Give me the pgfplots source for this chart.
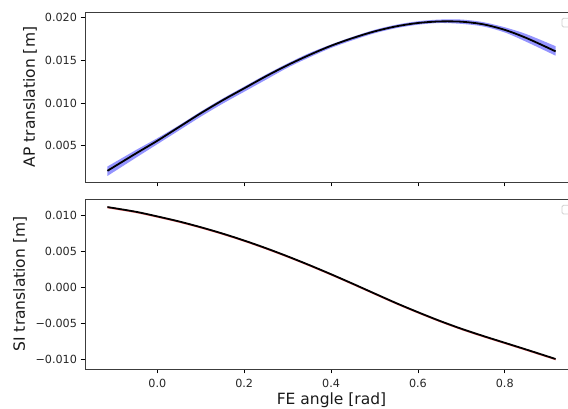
\documentclass[border=0pt]{standalone}
\usepackage{fontspec}
\setmainfont{DejaVu Sans}
\usepackage{pgfplots}
\usepackage{pgfplotstable}
\pgfplotsset{compat=1.18}
\usepgfplotslibrary{fillbetween}

\definecolor{bandblue}{RGB}{148,148,255}
\definecolor{bandred}{RGB}{255,128,128}
\definecolor{axgray}{RGB}{60,60,60}

% AP translation: x, mean, lower, upper
\pgfplotstableread{
x m lo hi
-0.115 0.0021 0.0015 0.0026
-0.05 0.0041 0.0036 0.0045
0.0 0.0056 0.0052 0.0059
0.05 0.0072 0.0068 0.0074
0.1 0.0088 0.0084 0.0090
0.15 0.0103 0.0099 0.0105
0.2 0.0117 0.0113 0.0119
0.25 0.0131 0.0127 0.0133
0.3 0.0144 0.0141 0.0146
0.35 0.01558 0.0153 0.0158
0.4 0.01665 0.0164 0.0168
0.45 0.01755 0.0173 0.0177
0.5 0.01832 0.0181 0.0185
0.55 0.01891 0.0187 0.0191
0.6 0.01930 0.0191 0.0195
0.65 0.01948 0.0193 0.0197
0.7 0.01945 0.0192 0.0197
0.75 0.01915 0.0189 0.0194
0.8 0.01850 0.0182 0.0188
0.85 0.01755 0.0171 0.0180
0.917 0.01600 0.0155 0.0166
}\APdata

% SI translation: x, mean, lower, upper
\pgfplotstableread{
x m lo hi
-0.115 0.0111 0.01092 0.01118
-0.05 0.01045 0.01027 0.01053
0.0 0.0098 0.00962 0.00988
0.05 0.0091 0.00892 0.00918
0.1 0.0083 0.00812 0.00838
0.15 0.00742 0.00724 0.00750
0.2 0.00645 0.00627 0.00653
0.25 0.00539 0.00521 0.00547
0.3 0.00425 0.00407 0.00433
0.35 0.00304 0.00286 0.00312
0.4 0.00177 0.00159 0.00185
0.45 0.00045 0.00027 0.00053
0.5 -0.0009 -0.00108 -0.00082
0.55 -0.00224 -0.00242 -0.00216
0.6 -0.0035 -0.00368 -0.00342
0.65 -0.0047 -0.00488 -0.00462
0.7 -0.0058 -0.00598 -0.00572
0.75 -0.0068 -0.00698 -0.00672
0.8 -0.00775 -0.00793 -0.00767
0.85 -0.0087 -0.00888 -0.00862
0.917 -0.0100 -0.01018 -0.00992
}\SIdata

\pgfplotsset{
  myaxis/.style={
    scale only axis,
    width=493pt, height=170pt,
    xmin=-0.1666, xmax=0.9686,
    xtick={0,0.2,0.4,0.6,0.8},
    tick pos=left,
    tick align=outside,
    major tick length=4.5pt,
    axis line style={axgray, line width=0.8pt},
    every tick/.style={black, line width=0.8pt},
    tick label style={font=\fontsize{11.2}{13}\selectfont, text=black!85},
    xticklabel style={yshift=-2pt},
    label style={font=\fontsize{15.5}{18}\selectfont, text=black!90},
    scaled ticks=false,
  },
}

\begin{document}
\begin{tikzpicture}
% top axis
\begin{axis}[myaxis,
  at={(85pt,227pt)}, anchor=south west,
  ymin=0.0008, ymax=0.02058,
  ytick={0.005,0.010,0.015,0.020},
  yticklabels={0.005,0.010,0.015,0.020},
  xticklabels={},
  ylabel={AP translation [m]},
  ylabel style={at={(axis description cs:-0.1116,0.5)}, anchor=center},
]
\addplot[name path=apu, draw=none, smooth] table[x=x,y=hi] {\APdata};
\addplot[name path=apl, draw=none, smooth] table[x=x,y=lo] {\APdata};
\addplot[bandblue] fill between[of=apu and apl];
\addplot[black, line width=1.8pt, smooth] table[x=x,y=m] {\APdata};
\draw[black!18, fill=white, rounded corners=1.5pt, line width=0.8pt] (rel axis cs:0.9675,0.963) rectangle (rel axis cs:0.9878,0.912);
\end{axis}
% bottom axis
\begin{axis}[myaxis,
  at={(85pt,40pt)}, anchor=south west,
  ymin=-0.01139, ymax=0.01222,
  ytick={-0.010,-0.005,0,0.005,0.010},
  yticklabels={−0.010,−0.005,0.000,0.005,0.010},
  xticklabels={0.0,0.2,0.4,0.6,0.8},
  ylabel={SI translation [m]},
  ylabel style={at={(axis description cs:-0.1318,0.5)}, anchor=center},
  xlabel={FE angle [rad]},
  xlabel style={at={(axis description cs:0.5,-0.182)}, anchor=center},
]
\addplot[name path=siu, draw=none, smooth] table[x=x,y=hi] {\SIdata};
\addplot[name path=sil, draw=none, smooth] table[x=x,y=lo] {\SIdata};
\addplot[bandred] fill between[of=siu and sil];
\addplot[black, line width=1.8pt, smooth] table[x=x,y=m] {\SIdata};
\draw[black!18, fill=white, rounded corners=1.5pt, line width=0.8pt] (rel axis cs:0.9675,0.963) rectangle (rel axis cs:0.9878,0.912);
\end{axis}
\pgfresetboundingbox
\useasboundingbox (0pt,0pt) rectangle (568pt,409pt);
\end{tikzpicture}
\end{document}
